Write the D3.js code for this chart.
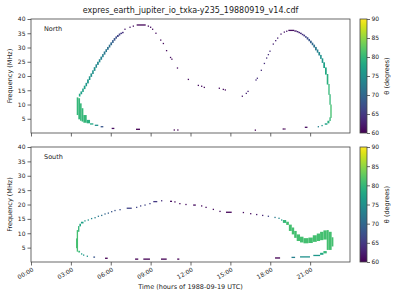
<!DOCTYPE html>
<html>
<head>
<meta charset="utf-8">
<script src="https://cdn.jsdelivr.net/npm/d3@7"></script>
<style>
  body { margin: 0; background: #fff; }
  text { font-family: "DejaVu Sans", sans-serif; fill: #222; }
</style>
</head>
<body>
<svg id="chart" width="400" height="300"></svg>
<script>
const chartTitle = 'expres_earth_jupiter_io_txka-y235_19880919_v14.cdf'
const hourTicks = [0, 3, 6, 9, 12, 15, 18, 21]
const freqTicks = [5, 10, 15, 20, 25, 30, 35, 40]
const thetaTicks = [60, 65, 70, 75, 80, 85, 90]

// rows: [t start (h), t end (h), f low (MHz), f high (MHz), theta (deg)]
const northRows = [
  // green bulge + low tail
  [3.44, 3.56, 6.3, 12.5, 80], [3.56, 3.69, 4.8, 12.2, 80], [3.69, 3.81, 4.3, 10.4, 80],
  [3.81, 3.94, 4.0, 8.7, 80], [3.94, 4.19, 3.6, 6.3, 80], [4.19, 4.44, 3.4, 4.6, 79],
  [4.44, 4.69, 3.1, 3.4, 78], [4.80, 5.06, 2.7, 2.7, 75], [5.24, 5.44, 2.2, 2.2, 68],
  [6.07, 6.27, 1.6, 1.6, 61], [7.90, 8.20, 1.3, 1.3, 60], [10.78, 10.78, 1.05, 1.05, 60],
  [11.00, 11.08, 1.05, 1.05, 60], [16.88, 16.88, 1.0, 1.0, 60],
  // rising branch
  [3.60, 3.72, 12.8, 13.8, 78], [3.72, 3.85, 13.6, 14.6, 77], [3.85, 3.97, 14.4, 15.6, 77],
  [3.97, 4.10, 15.4, 16.6, 77], [4.10, 4.22, 16.4, 17.6, 76], [4.22, 4.35, 17.4, 18.8, 76],
  [4.35, 4.47, 18.6, 19.9, 76], [4.47, 4.60, 19.7, 20.9, 75], [4.60, 4.72, 20.7, 22.0, 75],
  [4.72, 4.85, 21.8, 23.1, 75], [4.85, 4.97, 22.9, 24.1, 74], [4.97, 5.10, 23.9, 25.0, 74],
  [5.10, 5.22, 24.8, 25.9, 74], [5.22, 5.35, 25.7, 26.8, 73], [5.35, 5.47, 26.6, 27.7, 73],
  [5.47, 5.60, 27.5, 28.6, 72], [5.60, 5.72, 28.4, 29.4, 72], [5.72, 5.85, 29.2, 30.2, 71],
  [5.85, 5.97, 30.0, 31.0, 71], [5.97, 6.10, 30.8, 31.8, 70], [6.10, 6.22, 31.6, 32.6, 69],
  [6.22, 6.35, 32.4, 33.3, 68], [6.35, 6.47, 33.1, 33.9, 67], [6.47, 6.60, 33.7, 34.4, 66],
  [6.60, 6.72, 34.2, 34.9, 66], [6.72, 6.85, 34.7, 35.2, 65], [6.85, 6.97, 35.0, 35.5, 64],
  // sparse points over the top and across the day
  [7.07, 7.07, 36.4, 36.4, 62], [7.45, 7.45, 37.1, 37.1, 62], [7.70, 7.70, 37.5, 37.5, 61],
  [7.95, 8.63, 37.9, 37.9, 60.5], [8.83, 8.83, 37.5, 37.5, 61], [9.00, 9.00, 37.1, 37.1, 61],
  [9.15, 9.15, 36.4, 36.4, 61], [9.40, 9.40, 35.0, 35.0, 61], [9.76, 9.76, 32.6, 32.6, 61],
  [9.96, 9.96, 31.4, 31.4, 61], [10.20, 10.20, 28.9, 28.9, 61], [10.50, 10.50, 26.5, 26.5, 61],
  [10.60, 10.60, 25.9, 25.9, 61], [11.02, 11.02, 22.8, 22.8, 61], [11.84, 11.84, 18.8, 18.8, 61],
  [12.59, 12.59, 16.7, 16.7, 61], [12.84, 12.84, 16.4, 16.4, 61], [13.04, 13.04, 16.0, 16.0, 61],
  [14.17, 14.17, 15.7, 15.7, 61], [14.47, 14.47, 15.3, 15.3, 61], [14.62, 14.62, 15.1, 15.1, 61],
  [15.90, 15.90, 12.9, 12.9, 62], [16.20, 16.20, 13.9, 13.9, 63], [16.33, 16.33, 14.6, 14.6, 63],
  [16.93, 16.93, 18.6, 18.6, 64], [17.03, 17.03, 19.2, 19.2, 64], [17.33, 17.33, 22.0, 22.0, 64],
  [17.56, 17.56, 24.4, 24.4, 64], [17.73, 17.73, 26.3, 26.3, 64], [17.86, 17.86, 27.5, 27.5, 64],
  [17.98, 17.98, 28.7, 28.7, 64], [18.23, 18.23, 31.2, 31.2, 63], [18.41, 18.41, 32.4, 32.4, 63],
  [18.56, 18.56, 33.3, 33.3, 63], [18.81, 18.81, 34.7, 34.7, 62], [19.06, 19.06, 35.4, 35.4, 62],
  [19.24, 19.24, 35.7, 35.7, 62], [19.36, 19.81, 36.0, 36.0, 61],
  // descending branch of the second arc
  [19.81, 19.99, 35.6, 36.0, 62], [19.99, 20.12, 35.3, 35.8, 63], [20.12, 20.24, 35.0, 35.5, 63],
  [20.24, 20.37, 34.7, 35.2, 64], [20.37, 20.49, 34.3, 34.8, 64], [20.49, 20.62, 33.9, 34.5, 65],
  [20.62, 20.74, 33.4, 34.0, 66], [20.74, 20.87, 32.8, 33.6, 67], [20.87, 20.99, 32.2, 33.0, 68],
  [20.99, 21.12, 31.5, 32.4, 69], [21.12, 21.24, 30.8, 31.7, 70], [21.24, 21.37, 30.0, 31.0, 71],
  [21.37, 21.50, 29.0, 30.2, 72], [21.50, 21.62, 28.2, 29.3, 73], [21.62, 21.75, 27.2, 28.4, 74],
  [21.75, 21.87, 26.0, 27.4, 75], [21.87, 21.99, 24.6, 26.2, 76], [21.99, 22.12, 22.8, 24.8, 77],
  [22.12, 22.25, 20.5, 23.0, 78], [22.25, 22.37, 17.0, 20.7, 79], [22.37, 22.45, 13.4, 17.2, 80],
  [22.45, 22.52, 9.9, 13.6, 80], [22.52, 22.62, 5.3, 10.0, 81], [22.45, 22.55, 4.2, 5.5, 80],
  [22.30, 22.45, 3.4, 4.3, 79], [22.10, 22.30, 2.9, 3.4, 77], [21.85, 21.95, 2.6, 2.6, 76],
  [21.57, 21.65, 2.2, 2.2, 73], [20.60, 20.80, 2.0, 2.0, 61], [18.98, 18.98, 1.4, 1.4, 60],
  [19.10, 19.10, 1.4, 1.4, 60]
]

const southRows = [
  // green edge near 03:30
  [3.39, 3.44, 4.8, 8.2, 81], [3.44, 3.54, 3.6, 11.1, 81], [3.54, 3.64, 10.5, 12.5, 80],
  [3.56, 3.69, 3.3, 3.9, 80], [3.64, 3.76, 12.4, 13.3, 78], [3.76, 3.95, 13.4, 14.0, 77],
  // low tail
  [3.81, 3.81, 2.8, 2.8, 77], [3.96, 3.96, 2.4, 2.4, 76], [4.24, 4.24, 2.0, 2.0, 75],
  [4.69, 4.82, 1.7, 1.7, 68], [5.57, 5.77, 1.3, 1.3, 60], [7.83, 8.07, 1.0, 1.0, 60],
  [8.45, 8.95, 1.0, 1.0, 60], [9.78, 10.21, 1.0, 1.0, 60], [11.00, 11.16, 1.0, 1.0, 60],
  // upper dotted track
  [4.06, 4.06, 14.3, 14.3, 76], [4.31, 4.31, 14.6, 14.6, 75], [4.56, 4.56, 15.1, 15.1, 74],
  [4.82, 4.82, 15.4, 15.4, 73], [5.07, 5.07, 15.9, 15.9, 72], [5.32, 5.32, 16.2, 16.2, 71],
  [5.57, 5.57, 16.7, 16.7, 70], [5.82, 5.82, 17.0, 17.0, 69], [6.07, 6.07, 17.5, 17.5, 68],
  [6.32, 6.32, 17.9, 17.9, 68], [6.70, 6.70, 18.2, 18.2, 67], [7.20, 7.58, 18.7, 18.7, 66],
  [7.95, 7.95, 19.0, 19.0, 66], [8.25, 8.25, 19.5, 19.5, 66], [8.58, 8.58, 19.8, 19.8, 66],
  [8.95, 8.95, 20.3, 20.3, 66], [9.20, 9.50, 21.0, 21.0, 65], [9.83, 9.83, 21.3, 21.3, 64],
  [10.46, 10.61, 21.1, 21.1, 61], [10.83, 10.83, 20.9, 20.9, 61], [11.20, 11.20, 20.3, 20.3, 61],
  [11.66, 11.66, 20.0, 20.0, 61], [12.20, 12.40, 19.8, 19.8, 61], [12.84, 12.84, 19.5, 19.5, 61],
  [13.17, 13.17, 19.0, 19.0, 61], [13.72, 13.72, 18.3, 18.3, 61], [14.22, 14.22, 17.6, 17.6, 61],
  [14.67, 15.10, 17.3, 17.3, 60.5], [15.98, 15.98, 17.2, 17.2, 61], [16.53, 16.53, 16.8, 16.8, 61],
  [16.98, 16.98, 16.5, 16.5, 62], [17.43, 17.43, 16.2, 16.2, 63], [17.86, 17.86, 15.9, 15.9, 66],
  [18.36, 18.36, 15.5, 15.5, 72], [18.66, 18.66, 15.2, 15.2, 74], [18.86, 18.86, 14.6, 14.6, 77],
  // S-shaped band and hook
  [18.95, 19.20, 13.6, 14.6, 80], [19.20, 19.40, 12.9, 14.0, 81], [19.40, 19.62, 10.8, 13.0, 81],
  [19.62, 19.80, 9.6, 12.0, 81], [19.80, 19.99, 8.4, 10.8, 81], [19.99, 20.24, 7.3, 9.6, 81],
  [20.24, 20.50, 6.8, 8.8, 81], [20.50, 20.87, 6.5, 8.3, 81], [20.87, 21.20, 6.6, 8.5, 81],
  [21.20, 21.50, 7.0, 9.3, 81], [21.50, 21.75, 7.3, 9.9, 81], [21.75, 22.00, 7.6, 10.5, 81],
  [22.00, 22.25, 7.8, 11.0, 81], [22.25, 22.40, 4.2, 11.1, 81], [22.40, 22.62, 4.2, 10.5, 81],
  [22.62, 22.75, 5.4, 8.6, 81],
  [22.00, 22.25, 3.0, 3.8, 80], [21.75, 22.00, 2.5, 3.2, 78], [21.24, 21.75, 2.1, 2.5, 76],
  [20.24, 20.99, 1.7, 2.0, 75], [19.60, 19.87, 1.6, 1.6, 73], [18.36, 18.74, 1.4, 1.4, 60]
]

const panels = [
  { name: 'North', rows: northRows, top: 19, bottom: 133, showHours: false },
  { name: 'South', rows: southRows, top: 147, bottom: 262, showHours: true }
]

const svg = d3.select('#chart')
const x = d3.scaleLinear().domain([0, 24]).range([31, 350])
const color = d3.scaleSequential(d3.interpolateViridis).domain([60, 90])
const cbX = 360, cbW = 7
const dot = 1.3

// colorbar gradient
const grad = svg.append('defs').append('linearGradient')
  .attr('id', 'viridis').attr('x1', 0).attr('y1', 1).attr('x2', 0).attr('y2', 0)
d3.range(0, 1.0001, 0.05).forEach(function(p) {
  grad.append('stop').attr('offset', p).attr('stop-color', d3.interpolateViridis(p))
})

svg.append('text')
  .attr('x', 190.5).attr('y', 13)
  .attr('text-anchor', 'middle')
  .style('font-size', '8px')
  .text(chartTitle)

panels.forEach(function(p) {
  const y = d3.scaleLinear().domain([0, 40]).range([p.bottom, p.top])
  const g = svg.append('g')

  // marks: each row is a time-frequency patch, single samples get a small square
  g.selectAll('rect.mark').data(p.rows).enter().append('rect')
    .attr('class', 'mark')
    .attr('x', d => d[1] > d[0] ? x(d[0]) : x(d[0]) - dot / 2)
    .attr('width', d => Math.max(dot, x(d[1]) - x(d[0])))
    .attr('y', d => d[3] > d[2] ? y(d[3]) : y(d[3]) - dot / 2)
    .attr('height', d => Math.max(dot, y(d[2]) - y(d[3])))
    .attr('fill', d => color(d[4]))

  // axes
  const yAxis = g.append('g').attr('transform', 'translate(31,0)')
    .call(d3.axisLeft(y).tickValues(freqTicks).tickSize(3.5).tickPadding(2))
  const xAxis = g.append('g').attr('transform', 'translate(0,' + p.bottom + ')')
    .call(d3.axisBottom(x).tickValues(hourTicks).tickSize(3.5)
      .tickFormat(h => p.showHours ? d3.format('02d')(h) + ':00' : ''))
  ;[yAxis, xAxis].forEach(function(a) {
    a.select('.domain').remove()
    a.selectAll('line').attr('stroke', '#444').attr('stroke-width', 0.8)
    a.selectAll('text').style('font-size', '6px').attr('fill', '#222')
  })
  xAxis.selectAll('text')
    .attr('text-anchor', 'end')
    .attr('dy', '0.35em')
    .attr('y', 0)
    .attr('transform', 'translate(1.5,7) rotate(-30)')

  g.append('rect')
    .attr('x', 31).attr('y', p.top)
    .attr('width', 319).attr('height', p.bottom - p.top)
    .attr('fill', 'none').attr('stroke', '#444').attr('stroke-width', 0.8)

  g.append('text')
    .attr('x', 44).attr('y', p.top + 12)
    .style('font-size', '6.5px')
    .text(p.name)

  g.append('text')
    .attr('transform', 'translate(12,' + (p.top + p.bottom) / 2 + ') rotate(-90)')
    .attr('text-anchor', 'middle')
    .style('font-size', '6.5px')
    .text('Frequency (MHz)')

  // colorbar
  const c = d3.scaleLinear().domain([60, 90]).range([p.bottom, p.top])
  g.append('rect')
    .attr('x', cbX).attr('y', p.top)
    .attr('width', cbW).attr('height', p.bottom - p.top)
    .attr('fill', 'url(#viridis)')
    .attr('stroke', '#444').attr('stroke-width', 0.8)
  const cAxis = g.append('g').attr('transform', 'translate(' + (cbX + cbW) + ',0)')
    .call(d3.axisRight(c).tickValues(thetaTicks).tickSize(3).tickPadding(1.5))
  cAxis.select('.domain').remove()
  cAxis.selectAll('line').attr('stroke', '#444').attr('stroke-width', 0.8)
  cAxis.selectAll('text').style('font-size', '6px').attr('fill', '#222')

  g.append('text')
    .attr('transform', 'translate(389,' + (p.top + p.bottom) / 2 + ') rotate(-90)')
    .attr('text-anchor', 'middle')
    .style('font-size', '6.5px')
    .text('θ (degrees)')
})

svg.append('text')
  .attr('x', 190.5).attr('y', 289)
  .attr('text-anchor', 'middle')
  .style('font-size', '6.5px')
  .text('Time (hours of 1988-09-19 UTC)')
</script>
</body>
</html>
